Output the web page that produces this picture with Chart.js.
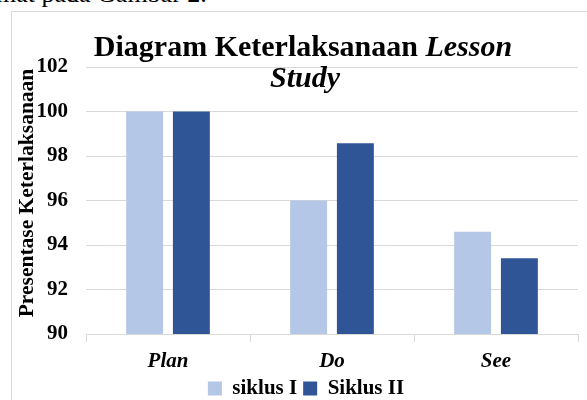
<!DOCTYPE html>
<html>
<head>
<meta charset="utf-8">
<script src="https://cdn.jsdelivr.net/npm/chart.js@4.4.0/dist/chart.umd.min.js"></script>
<style>
  html, body { margin: 0; padding: 0; background: #fff; }
  #wrap { position: relative; width: 587px; height: 400px; overflow: hidden; }
  #frame { position: absolute; left: 11px; top: 11px; width: 700px; height: 500px; border-left: 1.5px solid #D9D9D9; border-top: 1.5px solid #D9D9D9; }
  #above { position: absolute; left: -4px; top: -21px; font: 26px "Liberation Serif", serif; color: #000; white-space: nowrap; }
  #c { position: absolute; left: 0; top: 0; }
</style>
</head>
<body>
<div id="wrap">
  <div id="above">mat pada Gambar 2.</div>
  <div id="frame"></div>
  <canvas id="c" width="587" height="400"></canvas>
</div>
<script>
const categories = ["Plan", "Do", "See"];
const siklusI = [100, 96, 94.6];
const siklusII = [100, 98.57, 93.4];
const yTicks = [90, 92, 94, 96, 98, 100, 102];
const seriesNames = ["siklus I", "Siklus II"];
const titleMain = "Diagram Keterlaksanaan ";
const titleItalic = "Lesson";
const titleLine2 = "Study";
const yTitle = "Presentase Keterlaksanaan";

const SERIF = '"Liberation Serif", "Times New Roman", serif';

const titlePlugin = {
  id: 'customTitles',
  afterDraw(chart) {
    const ctx = chart.ctx;
    ctx.save();
    ctx.fillStyle = '#000';
    ctx.textBaseline = 'alphabetic';
    const fMain = 'bold 30px ' + SERIF;
    const fIt = 'italic bold 30px ' + SERIF;
    ctx.font = fMain;
    const w1 = ctx.measureText(titleMain).width;
    ctx.font = fIt;
    const w2 = ctx.measureText(titleItalic).width;
    const cx = 303;
    let x = cx - (w1 + w2) / 2;
    ctx.font = fMain;
    ctx.textAlign = 'left';
    ctx.fillText(titleMain, x, 56);
    ctx.font = fIt;
    ctx.fillText(titleItalic, x + w1, 56);
    ctx.textAlign = 'center';
    ctx.fillText(titleLine2, cx + 2, 87);
    // y axis title
    ctx.translate(27, 193);
    ctx.rotate(-Math.PI / 2);
    ctx.font = 'bold 21.5px ' + SERIF;
    ctx.textAlign = 'center';
    ctx.textBaseline = 'middle';
    ctx.fillText(yTitle, 0, 0);
    ctx.restore();
  }
};

new Chart(document.getElementById('c'), {
  type: 'bar',
  data: {
    labels: categories,
    datasets: [
      { label: seriesNames[0], data: siklusI, backgroundColor: '#B4C7E7', borderWidth: 0, categoryPercentage: 0.57, barPercentage: 0.79 },
      { label: seriesNames[1], data: siklusII, backgroundColor: '#2F5597', borderWidth: 0, categoryPercentage: 0.57, barPercentage: 0.79 }
    ]
  },
  options: {
    responsive: false,
    animation: false,
    layout: { padding: { left: 34, right: 9, top: 67, bottom: -9 } },
    plugins: {
      title: { display: false },
      tooltip: { enabled: false },
      legend: {
        position: 'bottom',
        labels: {
          font: { family: SERIF, size: 21, weight: 'bold' },
          color: '#000',
          boxWidth: 14,
          boxHeight: 14,
          padding: 6
        }
      }
    },
    scales: {
      x: {
        afterFit(s) { s.height = 38; },
        grid: { display: true, drawOnChartArea: false, drawTicks: true, tickLength: 8, color: '#D9D9D9', offset: true },
        border: { display: true, color: '#D9D9D9', width: 1 },
        ticks: { color: '#000', padding: 7, font: { family: SERIF, size: 21, weight: 'bold', style: 'italic' } }
      },
      y: {
        min: 90, max: 102,
        afterFit(s) { s.width = 52; },
        afterBuildTicks(s) { s.ticks = yTicks.map(v => ({ value: v })); },
        grid: { color: '#D9D9D9', lineWidth: 1, drawTicks: false },
        border: { display: false },
        ticks: { color: '#000', padding: 18, font: { family: SERIF, size: 21, weight: 'bold' } }
      }
    }
  },
  plugins: [titlePlugin]
});
</script>
</body>
</html>
